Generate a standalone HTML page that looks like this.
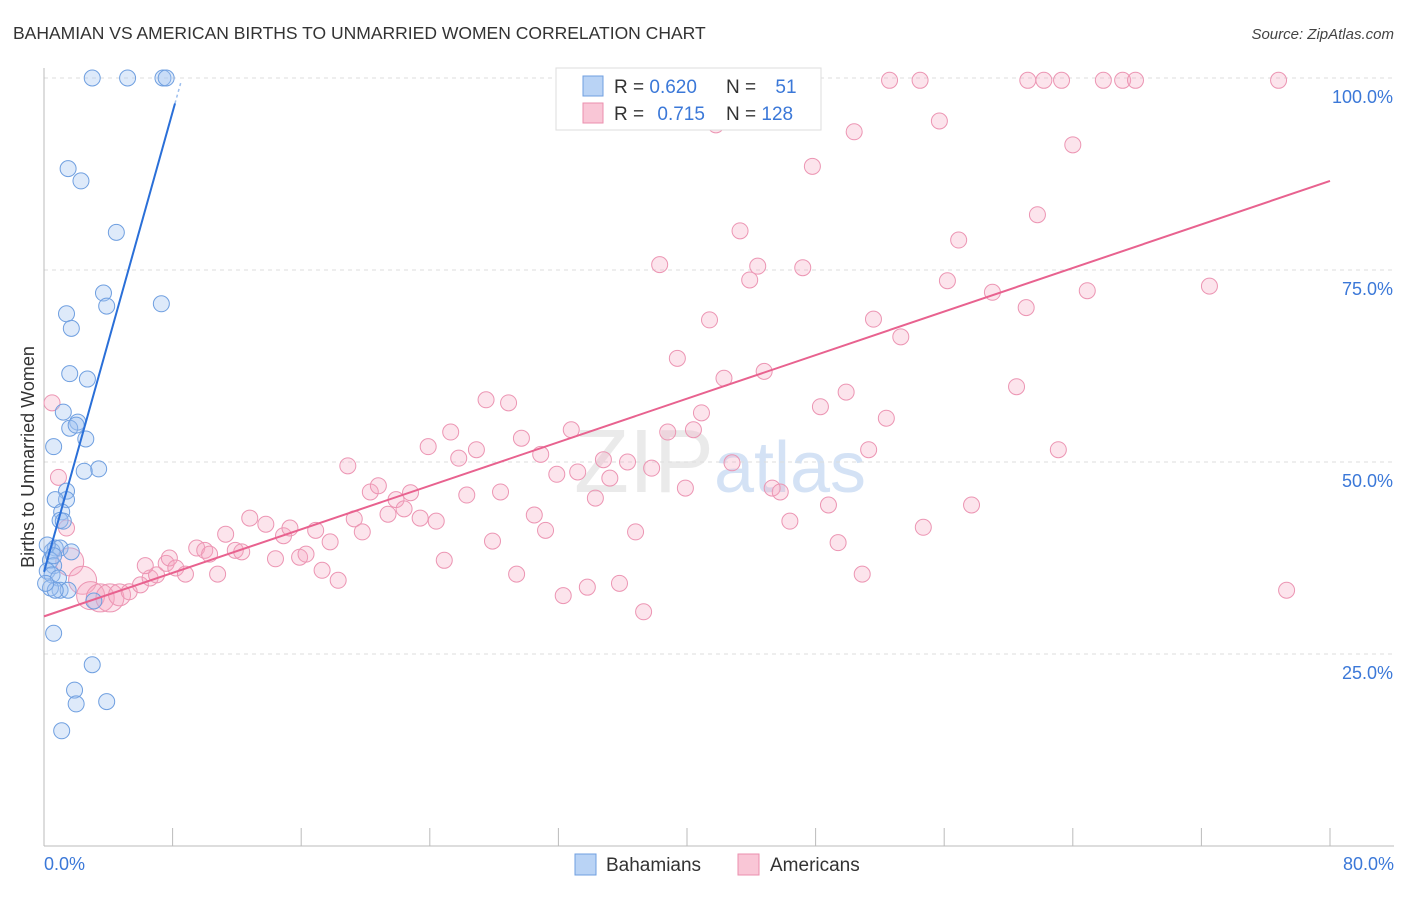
<!DOCTYPE html>
<html><head><meta charset="utf-8"><style>
body{margin:0;background:#fff;font-family:"Liberation Sans",sans-serif;}
svg text{font-family:"Liberation Sans",sans-serif;}
</style></head><body>
<svg id="chart" width="1406" height="892" xmlns="http://www.w3.org/2000/svg">
<text x="13" y="39" font-size="17.5" fill="#333">BAHAMIAN VS AMERICAN BIRTHS TO UNMARRIED WOMEN CORRELATION CHART</text>
<text x="1394" y="39" font-size="15" fill="#444" text-anchor="end" font-style="italic">Source: ZipAtlas.com</text>
<text x="720" y="492" font-size="90" text-anchor="middle" font-family="Liberation Serif" fill="#ddd" opacity="0.6">ZIP<tspan fill="#b8d0f0" font-family="Liberation Sans" font-size="72">atlas</tspan></text>
<g id="grid"></g>
<g id="axes"></g>
<g id="pts"></g>
<g id="lines"></g>
<text transform="translate(34,457) rotate(-90)" font-size="18" fill="#333" text-anchor="middle">Births to Unmarried Women</text>
<g>
<rect x="556" y="68" width="265" height="62" fill="#fff" stroke="#ddd"/>
<rect x="583" y="76" width="20" height="20" fill="#b9d3f5" stroke="#6f9fe0"/>
<rect x="583" y="103" width="20" height="20" fill="#f9c6d6" stroke="#eb8fae"/>
<text x="614" y="93" font-size="19" fill="#333">R = <tspan fill="#3b78d8">0.620</tspan></text>
<text x="726" y="93" font-size="19" fill="#333">N = <tspan fill="#3b78d8" dx="14">51</tspan></text>
<text x="614" y="120" font-size="19" fill="#333">R = <tspan fill="#3b78d8" dx="8">0.715</tspan></text>
<text x="726" y="120" font-size="19" fill="#333">N = <tspan fill="#3b78d8">128</tspan></text>
</g>
<g>
<rect x="575" y="854" width="21" height="21" fill="#b9d3f5" stroke="#6f9fe0"/>
<text x="606" y="871" font-size="19" fill="#333">Bahamians</text></g>
<g>
<rect x="738" y="854" width="21" height="21" fill="#f9c6d6" stroke="#eb8fae"/>
<text x="770" y="871" font-size="19" fill="#333">Americans</text></g>
</svg>
<script>
const xTicks=[0,10,20,30,40,50,60,70,80];
const yTicks=[25,50,75,100];
const blueX=[3.0,5.2,7.4,7.6,1.5,2.3,4.5,3.7,3.9,7.3,1.4,1.7,1.6,2.7,1.2,2.1,1.6,2.0,2.6,0.6,3.4,2.5,1.4,1.4,0.7,1.1,1.0,1.2,0.7,0.5,1.0,1.7,0.4,0.6,0.2,0.5,0.9,1.0,1.5,0.4,0.7,3.1,0.6,3.0,1.9,2.0,3.9,1.1,0.2,0.1,0.6];
const blueY=[100,100,100,100,88.2,86.6,79.9,72.0,70.3,70.6,69.3,67.4,61.5,60.8,56.5,55.2,54.4,54.8,53.0,52.0,49.1,48.8,46.2,45.1,45.1,43.5,42.4,42.3,38.8,38.4,38.8,38.3,37.2,36.5,35.8,35.3,34.9,33.3,33.3,33.6,33.3,31.9,27.7,23.6,20.3,18.5,18.8,15.0,39.2,34.2,37.8];
const pinkX=[0.5,0.9,1.4,1.6,2.4,2.9,3.5,4.1,4.7,5.3,6.0,6.6,7.0,6.3,7.6,7.8,8.2,8.8,9.5,10.0,10.3,10.8,11.3,11.9,12.3,12.8,13.8,14.4,14.9,15.3,15.9,16.3,16.9,17.3,17.8,18.3,18.9,19.3,19.8,20.3,20.8,21.4,21.9,22.4,22.8,23.4,23.9,24.4,24.9,25.3,25.8,26.3,26.9,27.5,27.9,28.4,28.9,29.4,29.7,30.5,30.9,31.2,31.9,32.3,32.8,33.2,33.8,34.3,34.8,35.2,35.8,36.3,36.8,37.3,37.8,38.3,38.8,39.4,39.9,40.4,40.9,41.4,41.8,42.3,42.8,43.3,43.9,44.4,44.8,45.3,45.8,46.4,47.2,47.8,48.3,48.8,49.4,49.9,50.4,50.9,51.3,51.6,52.4,52.6,53.3,54.5,54.7,55.7,56.2,56.9,57.7,59.0,60.5,61.1,61.2,61.8,62.2,63.1,63.3,64.0,64.9,65.9,67.1,67.9,72.5,76.8,77.3];
const pinkY=[57.7,48.0,41.4,37.0,34.6,32.6,32.3,32.3,32.7,33.1,34.0,34.9,35.3,36.5,36.8,37.5,36.2,35.4,38.8,38.5,38.0,35.4,40.6,38.5,38.3,42.7,41.9,37.4,40.4,41.4,37.6,38.0,41.1,35.9,39.6,34.6,49.5,42.6,40.9,46.1,46.9,43.2,45.1,43.9,46.0,42.7,52.0,42.3,37.2,53.9,50.5,45.7,51.6,58.1,39.7,46.1,57.7,35.4,53.1,43.1,51.0,41.1,48.4,32.6,54.2,48.7,33.7,45.3,50.3,47.9,34.2,50.0,40.9,30.5,49.2,75.7,53.9,63.5,46.6,54.2,56.4,68.5,93.9,60.9,49.9,80.1,73.7,75.5,61.8,46.6,46.1,42.3,75.3,88.5,57.2,44.4,39.5,59.1,93.0,35.4,51.6,68.6,55.7,99.7,66.3,99.7,41.5,94.4,73.6,78.9,44.4,72.1,59.8,70.1,99.7,82.2,99.7,51.6,99.7,91.3,72.3,99.7,99.7,99.7,72.9,99.7,33.3];
const blueFit=[[0,35.7],[8.15,96.7]];
const pinkFit=[[0,29.9],[80,86.6]];
const NS="http://www.w3.org/2000/svg";
const X=v=>44+v*16.075, Y=v=>846-v*7.68;
function mk(t,a,p){const e=document.createElementNS(NS,t);for(const k in a)e.setAttribute(k,a[k]);document.getElementById(p).appendChild(e);return e;}
yTicks.forEach(t=>{
 const l=mk('line',{x1:44,x2:1394,y1:Y(t),y2:Y(t),stroke:'#ddd','stroke-dasharray':'4,4'},'grid');
 
 
 const tx=mk('text',{x:1393,y:Y(t)+25,'font-size':18,fill:'#3b78d8','text-anchor':'end'},'axes');tx.textContent=t.toFixed(1)+'%';
 
 
});
mk('line',{x1:44,x2:1394,y1:Y(100),y2:Y(100),stroke:'#ddd','stroke-dasharray':'4,4'},'grid');
mk('line',{x1:44,x2:44,y1:68,y2:846,stroke:'#bbb'},'axes');
mk('line',{x1:44,x2:1394,y1:846,y2:846,stroke:'#bbb'},'axes');
for(let i=0;i<=10;i++){mk('line',{x1:X(i*8),x2:X(i*8),y1:828,y2:846,stroke:'#bbb'},'axes');}
[[0,'0.0%','start',44],[80,'80.0%','end',1394]].forEach(([v,s,a,px])=>{
 const tx=mk('text',{x:px,y:870,'font-size':18,fill:'#3b78d8','text-anchor':a},'axes');tx.textContent=s;
 
 
});
pinkX.forEach((v,i)=>{
 const r=(v<5&&pinkY[i]<40)?(v<4.5?14:11):8;
 const c=mk('circle',{cx:X(v),cy:Y(pinkY[i]),r:r,fill:'rgba(245,165,192,0.3)',stroke:'#ec95b3','stroke-width':1},'pts');
 
 
});
blueX.forEach((v,i)=>{
 const c=mk('circle',{cx:X(v),cy:Y(blueY[i]),r:8,fill:'rgba(160,195,240,0.35)',stroke:'#6f9fe0','stroke-width':1},'pts');
 
 
});
const bl=mk('line',{x1:X(blueFit[0][0]),y1:Y(blueFit[0][1]),x2:X(blueFit[1][0]),y2:Y(blueFit[1][1]),stroke:'#2a6fd8','stroke-width':2},'lines');


const slope=(blueFit[1][1]-blueFit[0][1])/(blueFit[1][0]-blueFit[0][0]);
mk('line',{x1:X(blueFit[1][0]),y1:Y(blueFit[1][1]),x2:X(8.55),y2:Y(blueFit[1][1]+slope*0.4),stroke:'#9dbfee','stroke-width':1.5,'stroke-dasharray':'3,3'},'lines');
const pl=mk('line',{x1:X(pinkFit[0][0]),y1:Y(pinkFit[0][1]),x2:X(pinkFit[1][0]),y2:Y(pinkFit[1][1]),stroke:'#e8628f','stroke-width':2},'lines');


</script>
</body></html>
